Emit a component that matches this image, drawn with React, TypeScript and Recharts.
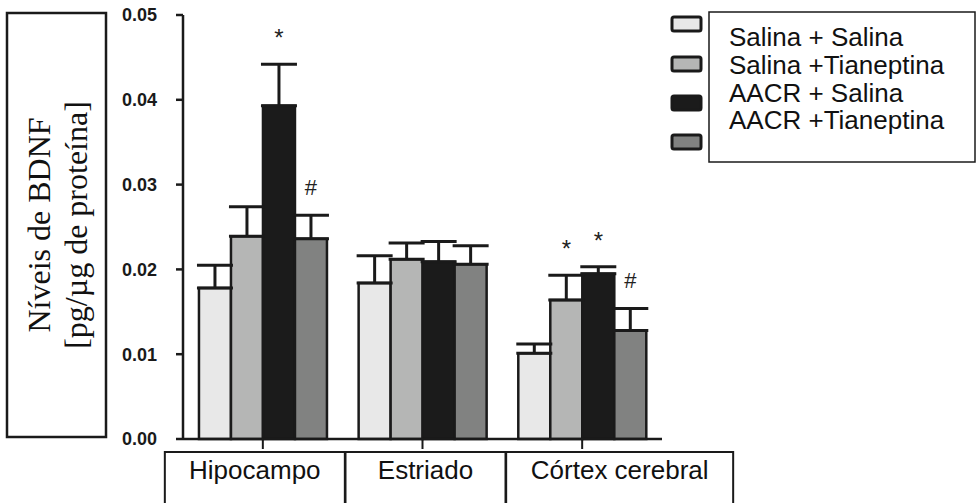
import React from 'react';
import { BarChart, Bar, XAxis, YAxis, ErrorBar, LabelList } from 'recharts';

// Regiões cerebrais
const regions = ['Hipocampo', 'Estriado', 'Córtex cerebral'];

// Médias por grupo (pg/µg de proteína)
const salinaSalina = [0.0178, 0.0184, 0.0101];
const salinaTianeptina = [0.0239, 0.0212, 0.0164];
const aacrSalina = [0.0393, 0.0209, 0.0195];
const aacrTianeptina = [0.0236, 0.0206, 0.0128];

// Erro padrão (só para cima)
const errSalinaSalina = [0.0027, 0.0032, 0.0011];
const errSalinaTianeptina = [0.0035, 0.0019, 0.0029];
const errAacrSalina = [0.0049, 0.0024, 0.0008];
const errAacrTianeptina = [0.0028, 0.0022, 0.0026];

// Marcas de significância
const markSalinaSalina = ['', '', ''];
const markSalinaTianeptina = ['', '', '*'];
const markAacrSalina = ['*', '', '*'];
const markAacrTianeptina = ['#', '', '#'];

const yTicks = [0, 0.01, 0.02, 0.03, 0.04, 0.05];

const legendLabels = ['Salina + Salina', 'Salina +Tianeptina', 'AACR + Salina', 'AACR +Tianeptina'];

const colors = ['#e8e8e8', '#b5b6b5', '#1b1b1b', '#818281'];
const INK = '#1a1a1a';
const SANS = '"Liberation Sans", Arial, sans-serif';
const SERIF = '"Liberation Serif", "Times New Roman", serif';

const series = [
  { key: 's1', values: salinaSalina, errs: errSalinaSalina, marks: markSalinaSalina },
  { key: 's2', values: salinaTianeptina, errs: errSalinaTianeptina, marks: markSalinaTianeptina },
  { key: 's3', values: aacrSalina, errs: errAacrSalina, marks: markAacrSalina },
  { key: 's4', values: aacrTianeptina, errs: errAacrTianeptina, marks: markAacrTianeptina },
];

const data = regions.map((region, i) => {
  const row: any = { region };
  series.forEach((s) => {
    row[s.key] = s.values[i];
    row[s.key + 'e'] = [0, s.errs[i]];
    row[s.key + 'm'] = s.marks[i];
  });
  return row;
});

// caixas das categorias, relativas ao tick
const boxOffsets = [
  [-98, 82],
  [-77, 83],
  [-76, 151],
];

function RegionTick(props: any) {
  const { x, y, payload, index } = props;
  const [l, r] = boxOffsets[index] || [-80, 80];
  return (
    <g>
      <rect x={x + l} y={y + 1} width={r - l} height={70} fill="#fff" stroke={INK} strokeWidth={2} />
      <text x={x + (l + r) / 2} y={y + 28} textAnchor="middle" fontSize={26} fontFamily={SANS} fill="#111">
        {payload.value}
      </text>
    </g>
  );
}

const makeMark = (values: number[], errs: number[]) => (props: any) => {
  const vb = props.viewBox || props;
  const x = vb.x ?? props.x;
  const y = vb.y ?? props.y;
  const width = vb.width ?? props.width;
  const height = Math.abs(vb.height ?? props.height);
  const { value, index } = props;
  if (!value) return null;
  const perUnit = height / values[index];
  const top = y - errs[index] * perUnit;
  const isStar = value === '*';
  return (
    <text x={x + width / 2} y={top - (isStar ? 18 : 20)} textAnchor="middle" fontSize={isStar ? 24 : 22} fontFamily={SANS} fill="#222">
      {value}
    </text>
  );
};

export default function App() {
  return (
    <div style={{ position: 'absolute', left: 0, top: 0, width: 978, height: 503, background: '#fff' }}>
      <BarChart
        width={978}
        height={503}
        data={data}
        margin={{ top: 15, right: 316, bottom: 0, left: 0 }}
        barCategoryGap="10%"
        barGap={0}
      >
        <XAxis
          dataKey="region"
          height={64}
          axisLine={{ stroke: INK, strokeWidth: 2.5 }}
          tickLine={{ stroke: INK, strokeWidth: 2 }}
          tickSize={10}
          tick={<RegionTick />}
          interval={0}
        />
        <YAxis
          width={183}
          domain={[0, 0.05]}
          ticks={yTicks}
          tickFormatter={(v: number) => v.toFixed(2)}
          axisLine={{ stroke: INK, strokeWidth: 2.5 }}
          tickLine={{ stroke: INK, strokeWidth: 2.5 }}
          tickSize={7}
          tickMargin={19}
          tick={{ fill: INK, fontSize: 18, fontWeight: 'bold', fontFamily: SANS }}
        />
        {series.map((s, i) => (
          <Bar key={s.key} dataKey={s.key} fill={colors[i]} stroke={INK} strokeWidth={2.5} isAnimationActive={false}>
            <ErrorBar dataKey={s.key + 'e'} width={18} stroke={INK} strokeWidth={3} direction="y" isAnimationActive={false} />
            <LabelList dataKey={s.key + 'm'} content={makeMark(s.values, s.errs)} />
          </Bar>
        ))}
      </BarChart>

      <svg width={978} height={503} style={{ position: 'absolute', left: 0, top: 0, pointerEvents: 'none' }}>
        {/* título do eixo Y */}
        <rect x={7} y={13} width={99} height={424} fill="none" stroke={INK} strokeWidth={2.5} />
        <g transform="translate(50,225) rotate(-90)">
          <text textAnchor="middle" fontSize={32} fontFamily={SERIF} fill="#111">Níveis de BDNF</text>
        </g>
        <g transform="translate(87,225) rotate(-90)">
          <text textAnchor="middle" fontSize={32} fontFamily={SERIF} fill="#111">[pg/µg de proteína]</text>
        </g>

        {/* legenda */}
        {colors.map((c, i) => (
          <rect key={c} x={672} y={[17, 57, 96, 135][i]} width={29} height={14} rx={2} fill={c} stroke={INK} strokeWidth={3} />
        ))}
        <rect x={709} y={12} width={266} height={150} fill="#fff" stroke={INK} strokeWidth={1.5} />
        {legendLabels.map((t, i) => (
          <text key={t} x={729} y={46 + i * 27.8} fontSize={26} fontFamily={SANS} fill="#111">
            {t}
          </text>
        ))}
      </svg>
    </div>
  );
}
